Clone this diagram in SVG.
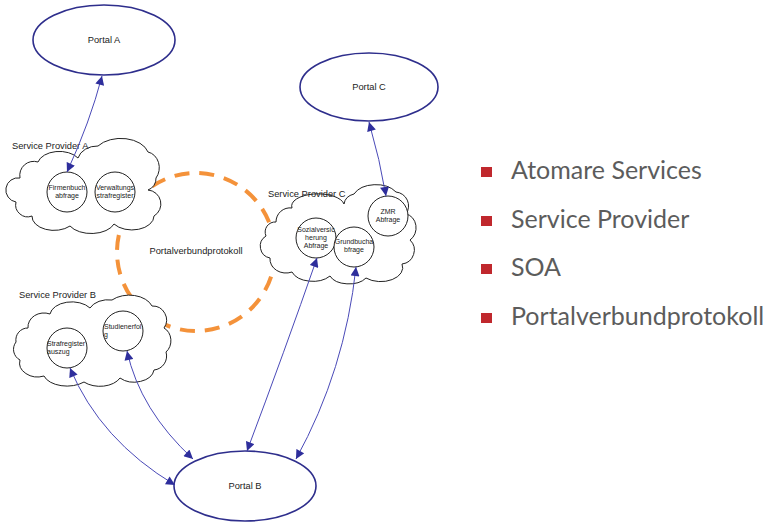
<svg xmlns="http://www.w3.org/2000/svg" width="771" height="522" viewBox="0 0 771 522">
<style>
.portal{fill:#fff;stroke:#2e2e8c;stroke-width:1.6}
.cloud{fill:#fff;stroke:#222;stroke-width:1}
.svc{fill:#fff;stroke:#222;stroke-width:1}
.lbl{font-family:"Liberation Sans",Arial,sans-serif;font-size:9.3px;fill:#222}
.small{font-family:"Liberation Sans",Arial,sans-serif;font-size:7px;fill:#222;text-anchor:middle}
.smallL{font-family:"Liberation Sans",Arial,sans-serif;font-size:7px;fill:#222}
.conn{fill:none;stroke:#4a4ab8;stroke-width:1;marker-start:url(#ah);marker-end:url(#ah)}
.legend{font-family:Lato,"Open Sans",sans-serif;font-size:25px;fill:#5c5c5c}
.bullet{fill:#c0282d}
</style>
<defs>
<marker id="ah" viewBox="0 0 10 10" refX="10" refY="5" markerWidth="10" markerHeight="9" markerUnits="userSpaceOnUse" orient="auto-start-reverse">
<path d="M0,0 L10,5 L0,10 z" fill="#2e2e9c"/>
</marker>
</defs>
<rect width="771" height="522" fill="#fff"/>

<g id="protocol">
<ellipse cx="196" cy="252" rx="79" ry="79" fill="none" stroke="#f4923a" stroke-width="4" stroke-dasharray="15 10"/>
<text class="lbl" x="196" y="254" text-anchor="middle">Portalverbundprotokoll</text>
</g>

<g id="provider-a">
<path class="cloud" d="M20,178 a14,14 0 0 1 18,-16 a22,14 0 0 1 40,-4 a20,16 0 0 1 20,-12 a28,18 0 0 1 50,6 a14,16 0 0 1 8,26 a12,12 0 0 1 -8,12 a14,14 0 0 1 6,26 a22,14 0 0 1 -40,8 a24,14 0 0 1 -44,2 a22,14 0 0 1 -38,-10 a12,12 0 0 1 -16,-14 a12,12 0 0 1 4,-24 z"/>
<text class="lbl" x="12" y="149">Service Provider A</text>
<g id="firmenbuch"><circle class="svc" cx="67" cy="192" r="20"/><text class="small" x="67" y="190">Firmenbuch</text><text class="small" x="67" y="198">abfrage</text></g>
<g id="verwaltung"><circle class="svc" cx="115" cy="192" r="20"/><text class="small" x="115" y="190">Verwaltungs</text><text class="small" x="115" y="198">strafregister</text></g>
</g>

<g id="provider-c">
<path class="cloud" d="M276,222 a14,14 0 0 1 16,-14 a26,12 0 0 1 52,-4 a14,12 0 0 1 10,-10 a24,16 0 0 1 42,-2 a14,14 0 0 1 10,22 a12,14 0 0 1 4,26 a14,14 0 0 1 -8,24 a22,14 0 0 1 -36,14 a20,12 0 0 1 -36,-2 a22,14 0 0 1 -38,-4 a16,14 0 0 1 -22,-14 a12,12 0 0 1 -4,-22 a10,10 0 0 1 10,-14 z"/>
<text class="lbl" x="268" y="197">Service Provider C</text>
<g id="sozial"><circle class="svc" cx="316" cy="238" r="20"/><text class="small" x="316" y="232">Sozialversic</text><text class="small" x="316" y="240">herung</text><text class="small" x="316" y="248">Abfrage</text></g>
<g id="grundbuch"><circle class="svc" cx="354" cy="247" r="20"/><text class="small" x="354" y="244">Grundbucha</text><text class="small" x="354" y="252">bfrage</text></g>
<g id="zmr"><circle class="svc" cx="388" cy="216" r="20"/><text class="small" x="388" y="214">ZMR</text><text class="small" x="388" y="222">Abfrage</text></g>
</g>

<g id="provider-b">
<path class="cloud" d="M28,328 a16,14 0 0 1 22,-14 a22,14 0 0 1 40,-6 a20,14 0 0 1 22,-8 a24,16 0 0 1 40,6 a14,14 0 0 1 12,22 a12,14 0 0 1 2,24 a14,14 0 0 1 -12,18 a20,14 0 0 1 -34,8 a22,14 0 0 1 -36,4 a24,14 0 0 1 -40,-6 a18,14 0 0 1 -24,-16 a12,12 0 0 1 -4,-18 a12,12 0 0 1 12,-14 z"/>
<text class="lbl" x="19" y="298">Service Provider B</text>
<g id="strafregister"><circle class="svc" cx="67" cy="348" r="20"/><text class="smallL" x="47" y="346">Strafregister</text><text class="smallL" x="47" y="354">auszug</text></g>
<g id="studienerfolg"><circle class="svc" cx="123" cy="331" r="20"/><text class="smallL" x="104" y="329">Studienerfol</text><text class="smallL" x="104" y="337">g</text></g>
</g>

<g id="portal-a"><ellipse class="portal" cx="104" cy="40" rx="71" ry="35"/><text class="lbl" x="104" y="43" text-anchor="middle">Portal A</text></g>
<g id="portal-c"><ellipse class="portal" cx="369" cy="87" rx="69" ry="34"/><text class="lbl" x="369" y="90" text-anchor="middle">Portal C</text></g>
<g id="portal-b"><ellipse class="portal" cx="245" cy="486" rx="71" ry="35"/><text class="lbl" x="245" y="489" text-anchor="middle">Portal B</text></g>

<g id="connectors">
<path class="conn" d="M102,76 Q90,122 67,172"/>
<path class="conn" d="M369,122 Q380,160 386,196"/>
<path class="conn" d="M70,368 Q100,440 175,485"/>
<path class="conn" d="M127,351 Q140,410 193,459"/>
<path class="conn" d="M317,258 Q285,350 247,451"/>
<path class="conn" d="M356,267 Q345,370 296,459"/>
</g>

<g id="legend">
<rect class="bullet" x="481" y="167" width="11" height="10"/>
<text class="legend" x="511" y="179">Atomare Services</text>
<rect class="bullet" x="481" y="216" width="11" height="10"/>
<text class="legend" x="511" y="228">Service Provider</text>
<rect class="bullet" x="481" y="264" width="11" height="10"/>
<text class="legend" x="511" y="276">SOA</text>
<rect class="bullet" x="481" y="313" width="11" height="10"/>
<text class="legend" x="511" y="325">Portalverbundprotokoll</text>
</g>
</svg>
